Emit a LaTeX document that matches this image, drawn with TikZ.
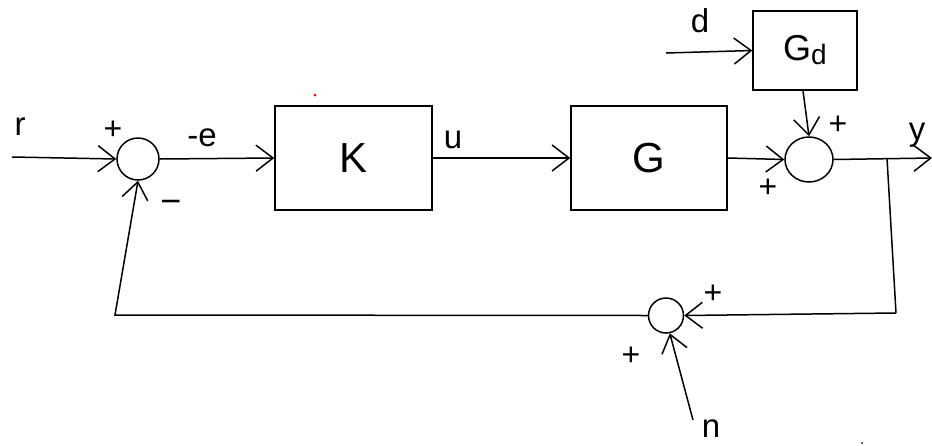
\documentclass[tikz,border=0pt]{standalone}
\usepackage{fontspec}
\setmainfont{Liberation Sans}
\usetikzlibrary{arrows.meta,shapes.geometric,calc}
\tikzset{
  x=1pt,y=-1pt,
  blk/.style={draw,line width=1.5pt,minimum width=#1,inner sep=0pt},
  sumc/.style={draw,circle,line width=1.5pt,minimum size=#1,inner sep=0pt},
  wire/.style={line width=1.5pt},
  arr/.style={wire,-{Straight Barb[length=17pt,width=26pt,line width=1.5pt]}},
  lbl/.style={font=\fontsize{33}{35}\selectfont,inner sep=0pt},
  sgn/.style={font=\fontsize{32}{34}\selectfont,inner sep=0pt},
  big/.style={font=\fontsize{42}{44}\selectfont},
}
\begin{document}
\begin{tikzpicture}
\useasboundingbox[fill=white] (0,0) rectangle (932,445);
% blocks
\node[blk=157pt,minimum height=104pt,big] (K) at (353.5,158) {K};
\node[blk=156pt,minimum height=104pt,big] (G) at (649,158) {G};
\node[blk=104pt,minimum height=79pt,font=\fontsize{36}{38}\selectfont] (Gd) at (805,50.5) {G\raisebox{-4pt}{\fontsize{28}{30}\selectfont d}};
% summing junctions
\node[sumc=42pt] (s1) at (138,159) {};
\node[draw,ellipse,line width=1.5pt,minimum width=48pt,minimum height=45pt,inner sep=0pt] (s2) at (809,159.5) {};
\node[sumc=35pt] (s3) at (666,315.5) {};
% free ends
\coordinate (rin) at (12,157);
\coordinate (din) at (666,53);
\coordinate (yout) at (932,158);
\coordinate (br) at (887,158);
\coordinate (br2) at (896,313);
\coordinate (fb) at (115,315);
\coordinate (nin) at (693,420);
% connectors
\draw[arr] (rin) -- (s1.west);
\draw[arr] (s1.east) -- (K.west);
\draw[arr] (K.east) -- (G.west);
\draw[arr] (G.east) -- (s2.west);
\draw[arr] (din) -- (Gd.west);
\draw[arr] ($(Gd.south)+(-2,0)$) -- (s2.north);
\draw[arr] (s2.east) -- (yout);
\draw[wire] (br) -- (br2);
\draw[arr] (br2) -- (s3.east);
\draw[arr] (s3.west) -- (fb) -- (s1.south);
\draw[arr] (nin) -- (s3.-78);
% labels
\node[lbl] (lr) at (20,127) {r};
\node[sgn] (p1) at (113,130) {+};
\node[lbl] (le) at (202,138) {-e};
\node[sgn,font=\fontsize{36}{38}\selectfont] (m1) at (171,207) {−};
\node[lbl] (lu) at (453,140) {u};
\node[lbl] (ld) at (700,21) {d};
\node[sgn] (p2) at (838,125) {+};
\node[sgn] (p3) at (768,188) {+};
\node[lbl] (ly) at (917,135) {y};
\node[sgn] (p4) at (713,294) {+};
\node[sgn] (p5) at (631,356) {+};
\node[lbl] (ln) at (711,429) {n};
% stray marks
\fill[red] (315,95) circle (1.5);
\fill (862,443) circle (1);
\end{tikzpicture}
\end{document}
